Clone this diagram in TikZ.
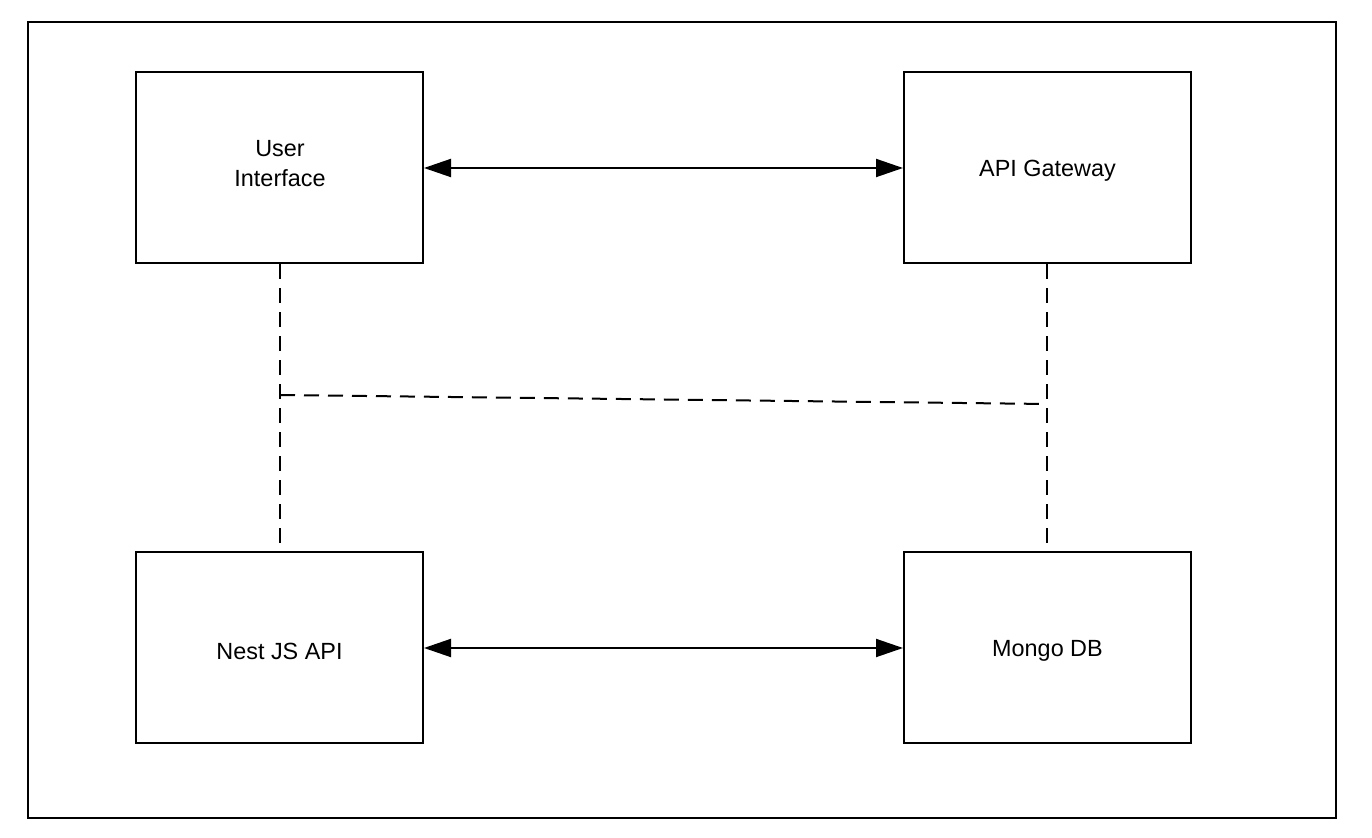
\documentclass[tikz,border=0pt]{standalone}
\usepackage{fontspec}
\setmainfont{Liberation Sans}
\usetikzlibrary{arrows.meta}
\begin{document}
\begin{tikzpicture}[x=0.5pt,y=-0.5pt,
  box/.style={draw,line width=1pt,minimum width=143.5pt,minimum height=95.5pt,inner sep=0pt,align=center,
    font=\fontsize{11.7pt}{15pt}\selectfont},
  lbl/.style={font=\fontsize{11.7pt}{15pt}\selectfont,inner sep=0pt,align=center},
  link/.style={line width=1pt,{Triangle[length=13.5pt,width=9pt]}-{Triangle[length=13.5pt,width=9pt]}},
  dline/.style={line width=1pt,dash pattern=on 7.5pt off 4.5pt}]
\useasboundingbox (0,0) rectangle (1372,838);
\draw[line width=1pt] (28,22) rectangle (1336,818);
\node[box] (ui) at (279.5,168) {};
\node[box] (gw) at (1047.5,168) {};
\node[box] (nest) at (279.5,648) {};
\node[box] (db) at (1047.5,648) {};
\node[lbl] (uit) at (280,164) {User\\Interface};
\node[lbl,yshift=-1.5pt] (gwt) at (1047.5,168) {API Gateway};
\node[lbl,yshift=-1.5pt] (nestt) at (279.5,648) {Nest JS API};
\node[lbl,yshift=-1.5pt] (dbt) at (1047.5,648) {Mongo DB};
\draw[link] (ui.east) -- (gw.west);
\draw[link] (nest.east) -- (db.west);
\coordinate (l1) at (280,543);
\coordinate (r1) at (1047,543);
\coordinate (lm) at (280,395);
\coordinate (rm) at (1047,404);
\draw[dline] (ui.south -| lm) -- (l1);
\draw[dline] (gw.south -| rm) -- (r1);
\draw[dline] (lm) -- (rm);
\end{tikzpicture}
\end{document}
